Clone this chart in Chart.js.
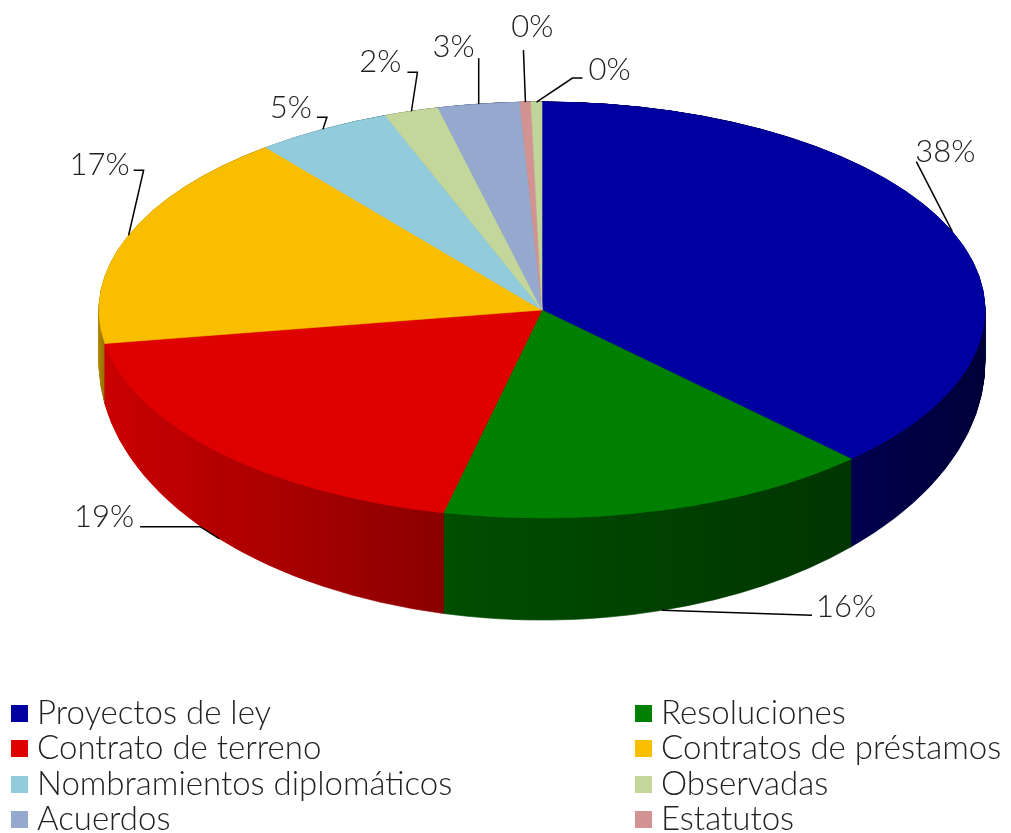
<!DOCTYPE html>
<html><head><meta charset="utf-8">
<script src="https://cdn.jsdelivr.net/npm/chart.js@4/dist/chart.umd.min.js"></script>
<style>
html,body{margin:0;padding:0;background:#fff;width:1011px;height:833px;overflow:hidden;font-family:Lato,'Open Sans',sans-serif;}
#wrap{position:absolute;left:0;top:0;width:1011px;height:680px;}
#legend{position:absolute;left:0;top:0;width:1011px;height:833px;}
.item{position:absolute;display:flex;align-items:center;font-size:33px;font-weight:300;color:#222;white-space:nowrap;line-height:33px;height:33px;}
.sw{width:17px;height:17px;margin-right:9px;flex:none;position:relative;top:2px;}
</style></head>
<body>
<div id="wrap"><canvas id="c" width="1011" height="680"></canvas></div>
<div id="legend"></div>
<script>
// ---- data ----
const categories = ['Proyectos de ley','Resoluciones','Contrato de terreno','Contratos de préstamos','Nombramientos diplomáticos','Observadas','Acuerdos','Estatutos','Otros'];
const values = [38, 16, 19, 17, 5, 2, 3, 0.4, 0.4];
const topColors = ['#0000A0','#008000','#DF0000','#F9BE00','#92CBDB','#C4D79B','#95A9CF','#D39393','#BFD59A'];
const sideLight = ['#00004E','#004E00','#CA0000','#B88A00','#6B98A5','#93A274','#6D7FA0','#A06E6E','#8FA073'];
const sideDark  = ['#000038','#003500','#8A0000','#8A6700','#557A85','#76825C','#56657F','#805858','#73805C'];

// ---- layout / style (not data) ----
const PIE = {cx:542, cy:310, rx:443, ry:208, sideDepth:52, frontDepth:102};
const LABEL_FONT = '300 31px Lato, "Open Sans", sans-serif';
const labelLayout = [
  {elbow:[-36,-70], run:0,   text:[-1,-10], align:'left',   bottom:false},
  {elbow:[150,5],   run:0,   text:[4,-8],   align:'left',   bottom:true},
  {elbow:[-19,-12], run:-60, text:[-6,-10], align:'right',  bottom:true},
  {elbow:[15,-65],  run:-10, text:[-4,-5],  align:'right',  bottom:false},
  {elbow:[4,-12],   run:-10, text:[-5,-9],  align:'right',  bottom:false},
  {elbow:[6,-39],   run:-10, text:[-6,-10], align:'right',  bottom:false},
  {elbow:[0,-46],   run:0,   text:[-4,-11], align:'right',  bottom:false},
  {elbow:[-2,-52],  run:0,   text:[9,-23],  align:'center', bottom:false},
  {elbow:[36,-24],  run:10,  text:[6,-8],   align:'left',   bottom:false}
];

const total = values.reduce((a,b)=>a+b,0);
const pctText = v => Math.round(v/total*100) + '%';

// t = 0 : top face, t = 1 : bottom rim (front thicker than sides, like perspective)
function applyT(ctx, arc, t){
  const R = arc.outerRadius;
  const ryL = PIE.ry + (PIE.frontDepth - PIE.sideDepth)*t;
  ctx.translate(PIE.cx, PIE.cy + PIE.sideDepth*t);
  ctx.scale(PIE.rx/R, ryL/R);
  ctx.translate(-arc.x, -arc.y);
}

const pie3d = {
  id:'pie3d',
  beforeDatasetsDraw(chart){
    const ctx = chart.ctx;
    const arcs = chart.getDatasetMeta(0).data;
    if(!arcs.length) return;
    const a0 = arcs[0], R = a0.outerRadius;
    const fills = arcs.map((arc,i)=>{
      let lo = Math.max(arc.startAngle, 0), hi = Math.min(arc.endAngle, Math.PI);
      if (hi <= lo) { lo = arc.startAngle; hi = arc.endAngle; }
      const x0 = arc.x + R*Math.cos(hi), x1 = arc.x + R*Math.cos(lo);
      const g = ctx.createLinearGradient(Math.min(x0,x1)-1, 0, Math.max(x0,x1)+1, 0);
      g.addColorStop(0, sideLight[i]); g.addColorStop(1, sideDark[i]);
      return g;
    });
    const N = PIE.frontDepth;
    for (let k = N; k >= 1; k--) {
      ctx.save();
      applyT(ctx, a0, k/N);
      arcs.forEach((arc,i)=>{
        const saved = arc.options;
        arc.options = Object.assign({}, saved, {backgroundColor: fills[i], borderColor: fills[i], borderWidth: 0.6});
        arc.draw(ctx);
        arc.options = saved;
      });
      ctx.restore();
    }
    ctx.save();
    applyT(ctx, a0, 0);
  },
  afterDatasetsDraw(chart){
    chart.ctx.restore();
  },
  afterDraw(chart){
    const ctx = chart.ctx;
    const arcs = chart.getDatasetMeta(0).data;
    ctx.save();
    ctx.font = LABEL_FONT;
    ctx.fillStyle = '#222';
    ctx.strokeStyle = '#000';
    ctx.lineWidth = 1.5;
    arcs.forEach((arc,i)=>{
      const L = labelLayout[i];
      const mid = (arc.startAngle + arc.endAngle)/2;
      const ax = PIE.cx + PIE.rx*Math.cos(mid);
      const ay = L.bottom
        ? PIE.cy + PIE.sideDepth + (PIE.ry + PIE.frontDepth - PIE.sideDepth)*Math.sin(mid)
        : PIE.cy + PIE.ry*Math.sin(mid);
      const ex = ax + L.elbow[0], ey = ay + L.elbow[1];
      const fx = ex + L.run, fy = ey;
      ctx.beginPath(); ctx.moveTo(ax, ay); ctx.lineTo(ex, ey);
      if (L.run) ctx.lineTo(fx, fy);
      ctx.stroke();
      ctx.textAlign = L.align; ctx.textBaseline = 'middle';
      ctx.fillText(pctText(values[i]), fx + L.text[0], fy + L.text[1]);
    });
    ctx.restore();
  }
};

new Chart(document.getElementById('c'), {
  type:'pie',
  data:{labels:categories, datasets:[{data:values, backgroundColor:topColors, borderColor:topColors, borderWidth:0.6, hoverOffset:0, clip:false}]},
  options:{responsive:false, animation:false, events:[], layout:{padding:0},
    plugins:{legend:{display:false}, tooltip:{enabled:false}}},
  plugins:[pie3d]
});

// HTML legend (two columns)
const leg = document.getElementById('legend');
categories.forEach((name,i)=>{
  const col = i % 2, row = Math.floor(i/2);
  const d = document.createElement('div');
  d.className = 'item';
  d.style.left = (col ? 635 : 11) + 'px';
  d.style.top = (695 + row*35.3) + 'px';
  d.innerHTML = '<span class="sw" style="background:'+topColors[i]+'"></span><span>'+name+'</span>';
  leg.appendChild(d);
});
</script>
</body></html>
